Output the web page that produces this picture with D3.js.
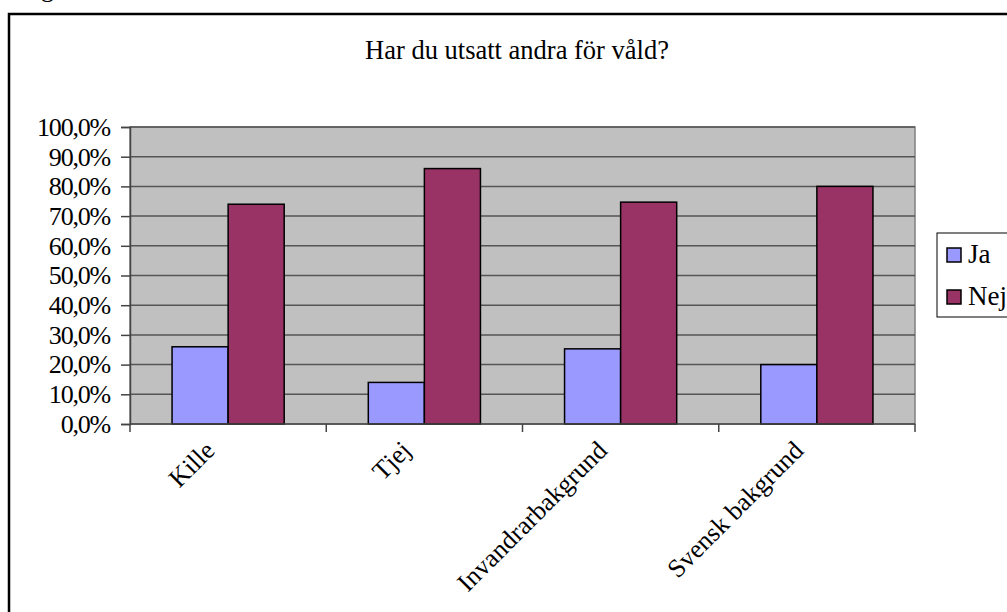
<!DOCTYPE html>
<html>
<head>
<meta charset="utf-8">
<script src="https://cdn.jsdelivr.net/npm/d3@7"></script>
<style>
  body { margin: 0; background: #fff; }
  svg { display: block; }
  text { font-family: "Liberation Serif", "Times New Roman", serif; fill: #000; }
</style>
</head>
<body>
<div id="chart"></div>
<script>
// data
const categories = ["Kille", "Tjej", "Invandrarbakgrund", "Svensk bakgrund"];
const seriesNames = ["Ja", "Nej"];
const jaValues = [26.0, 14.0, 25.3, 20.0];
const nejValues = [74.0, 86.0, 74.7, 80.0];
const yTicks = [0, 10, 20, 30, 40, 50, 60, 70, 80, 90, 100];
const colors = ["#9999ff", "#993366"];

const W = 1007, H = 612;
const plot = {left: 130, top: 127, right: 915, bottom: 424};

const svg = d3.select("#chart").append("svg")
    .attr("width", W)
    .attr("height", H);

// cut-off text above the frame
svg.append("text")
    .attr("x", 41)
    .attr("y", -3)
    .style("font-size", "26px")
    .text("g");

// outer chart frame (runs off right and bottom)
svg.append("rect")
    .attr("x", 9)
    .attr("y", 14)
    .attr("width", 1100)
    .attr("height", 700)
    .attr("fill", "#fff")
    .attr("stroke", "#000")
    .attr("stroke-width", 2.5);

svg.append("text")
    .attr("x", 517)
    .attr("y", 59)
    .attr("text-anchor", "middle")
    .style("font-size", "26.5px")
    .text("Har du utsatt andra för våld?");

const x = d3.scaleBand()
    .domain(categories)
    .range([plot.left, plot.right]);

const barW = x.bandwidth() / 3.5;

const y = d3.scaleLinear()
    .domain([0, 100])
    .range([plot.bottom, plot.top]);

// plot background
svg.append("rect")
    .attr("x", plot.left)
    .attr("y", plot.top)
    .attr("width", plot.right - plot.left)
    .attr("height", plot.bottom - plot.top)
    .attr("fill", "#c0c0c0")
    .attr("stroke", "#808080")
    .attr("stroke-width", 1.5);

// gridlines
svg.append("g")
    .selectAll("line")
    .data(yTicks.slice(1))
    .join("line")
    .attr("x1", plot.left)
    .attr("x2", plot.right)
    .attr("y1", d => y(d))
    .attr("y2", d => y(d))
    .attr("stroke", "#555")
    .attr("stroke-width", 1.5);

// bars
const groups = svg.append("g")
    .selectAll("g")
    .data(categories)
    .join("g");

groups.selectAll("rect")
    .data((c, i) => [jaValues[i], nejValues[i]])
    .join("rect")
    .attr("x", function (d, j) {
        const c = d3.select(this.parentNode).datum();
        return x(c) + barW * 0.75 + j * barW;
    })
    .attr("y", d => y(d))
    .attr("width", barW)
    .attr("height", d => y(0) - y(d))
    .attr("fill", (d, j) => colors[j])
    .attr("stroke", "#000")
    .attr("stroke-width", 1.5);

// y axis
const yAxis = svg.append("g")
    .attr("transform", `translate(${plot.left},0)`)
    .call(d3.axisLeft(y)
        .tickValues(yTicks)
        .tickSize(9)
        .tickPadding(11)
        .tickFormat(d => d.toFixed(1).replace(".", ",") + "%"));
yAxis.select(".domain").attr("stroke", "#444").attr("stroke-width", 1.5);
yAxis.selectAll(".tick line").attr("stroke", "#444").attr("stroke-width", 1.5);
yAxis.selectAll(".tick text")
    .attr("font-family", "Liberation Serif, serif")
    .style("font-size", "26px")
    .style("letter-spacing", "-1.2px")
    .attr("fill", "#000");

// x axis: ticks at category boundaries
const xAxisG = svg.append("g");
xAxisG.append("line")
    .attr("x1", plot.left)
    .attr("x2", plot.right)
    .attr("y1", plot.bottom)
    .attr("y2", plot.bottom)
    .attr("stroke", "#444")
    .attr("stroke-width", 1.5);
const bounds = categories.map(c => x(c)).concat([plot.right]);
xAxisG.selectAll("line.tk")
    .data(bounds)
    .join("line")
    .attr("class", "tk")
    .attr("x1", d => d)
    .attr("x2", d => d)
    .attr("y1", plot.bottom)
    .attr("y2", plot.bottom + 8)
    .attr("stroke", "#444")
    .attr("stroke-width", 1.5);

xAxisG.selectAll("text")
    .data(categories)
    .join("text")
    .attr("text-anchor", "end")
    .attr("transform", d => `translate(${x(d) + x.bandwidth() / 2 - 12},${plot.bottom + 28}) rotate(-45)`)
    .style("font-size", "26px")
    .text(d => d);

// legend
const legend = svg.append("g");
legend.append("rect")
    .attr("x", 937)
    .attr("y", 233)
    .attr("width", 120)
    .attr("height", 84)
    .attr("fill", "#fff")
    .attr("stroke", "#000")
    .attr("stroke-width", 1);

const items = legend.selectAll("g")
    .data(seriesNames)
    .join("g")
    .attr("transform", (d, i) => `translate(947,${248 + i * 42})`);
items.append("rect")
    .attr("width", 14)
    .attr("height", 14)
    .attr("fill", (d, i) => colors[i])
    .attr("stroke", "#000")
    .attr("stroke-width", 1.5);
items.append("text")
    .attr("x", 21)
    .attr("y", 15)
    .style("font-size", "27px")
    .text(d => d);
</script>
</body>
</html>
